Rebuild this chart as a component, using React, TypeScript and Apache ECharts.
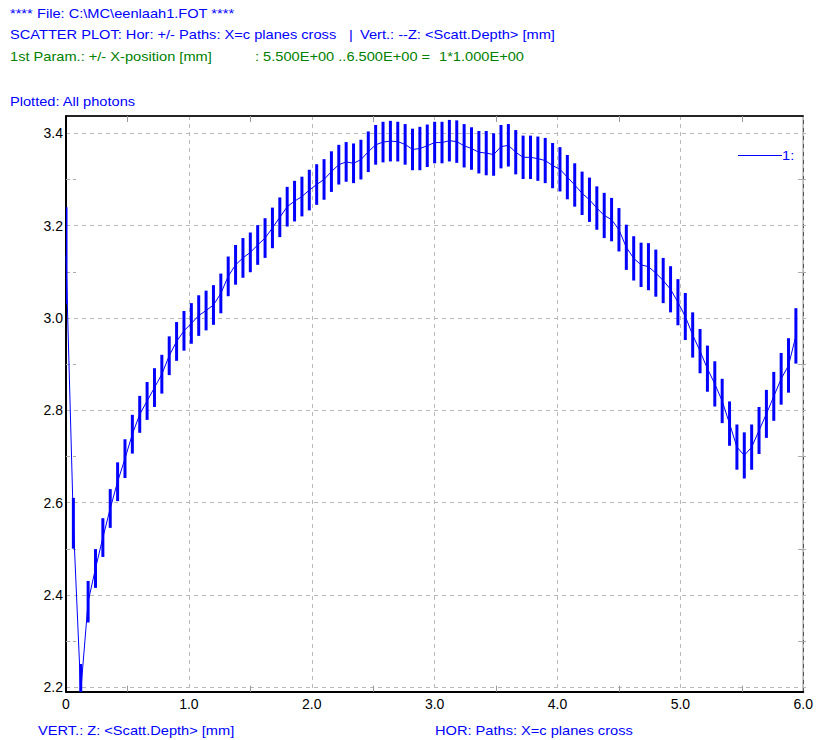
import React, { useEffect, useRef } from "react";
import * as echarts from "echarts";

// Mean scattering depth per X-plane bin (mm), bins every 0.06 from 0 to 5.94
const depthMean: number[] = [
  3.135, 2.555, 2.19, 2.385, 2.457, 2.524, 2.587, 2.645, 2.695, 2.748,
  2.791, 2.82, 2.849, 2.878, 2.918, 2.949, 2.972, 2.988, 3.005, 3.016,
  3.028, 3.053, 3.09, 3.115, 3.13, 3.142, 3.158, 3.173, 3.195, 3.218,
  3.241, 3.253, 3.263, 3.277, 3.289, 3.3, 3.317, 3.332, 3.338, 3.335,
  3.343, 3.36, 3.375, 3.381, 3.383, 3.382, 3.376, 3.365, 3.367, 3.373,
  3.38, 3.38, 3.384, 3.382, 3.373, 3.367, 3.359, 3.357, 3.354, 3.371,
  3.374, 3.359, 3.348, 3.348, 3.345, 3.341, 3.33, 3.322, 3.305, 3.288,
  3.27, 3.256, 3.238, 3.222, 3.213, 3.191, 3.153, 3.129, 3.115, 3.111,
  3.097, 3.081, 3.062, 3.034, 3.003, 2.963, 2.928, 2.89, 2.857, 2.82,
  2.771, 2.72, 2.702, 2.72, 2.756, 2.792, 2.83, 2.868, 2.897, 2.961,
];

// +/- spread of the depth in each bin (mm)
const depthSpread: number[] = [
  0.105, 0.055, 0.06, 0.045, 0.042, 0.042, 0.042, 0.042, 0.042, 0.042,
  0.04, 0.041, 0.042, 0.042, 0.042, 0.042, 0.043, 0.044, 0.044, 0.043,
  0.043, 0.043, 0.043, 0.043, 0.043, 0.043, 0.043, 0.043, 0.044, 0.043,
  0.043, 0.044, 0.043, 0.044, 0.044, 0.044, 0.044, 0.043, 0.043, 0.043,
  0.043, 0.044, 0.043, 0.044, 0.044, 0.043, 0.044, 0.045, 0.047, 0.046,
  0.045, 0.045, 0.045, 0.046, 0.047, 0.046, 0.046, 0.048, 0.046, 0.047,
  0.046, 0.048, 0.047, 0.047, 0.048, 0.049, 0.049, 0.048, 0.048, 0.047,
  0.047, 0.048, 0.047, 0.049, 0.047, 0.047, 0.049, 0.048, 0.048, 0.051,
  0.051, 0.049, 0.05, 0.05, 0.051, 0.049, 0.048, 0.05, 0.049, 0.048,
  0.048, 0.049, 0.05, 0.049, 0.051, 0.052, 0.053, 0.056, 0.059, 0.06,
];

const BIN_STEP = 0.06;
const xPositions: number[] = depthMean.map((_, i) => +(i * BIN_STEP).toFixed(2));

const xTicks = { min: 0, max: 6, interval: 1 };
const yTicks = { min: 2.2, max: 3.4, interval: 0.2 };
const yRange = { min: 2.19, max: 3.4375 };

const BLUE = "#0000ff";
const GREEN = "#008000";
const GRID_GREY = "#b8b8b8";
const FONT = '"Liberation Sans", Arial, sans-serif';
// the old-style UI font is wider than Arial at the same height
const TEXT_STRETCH = 1.17;

export default function App() {
  const ref = useRef<HTMLDivElement>(null);

  useEffect(() => {
    if (!ref.current) return;
    const chart = echarts.init(ref.current, null, { renderer: "svg" });

    const lineData = xPositions.map((x, i) => [x, depthMean[i]]);
    const barData = xPositions.map((x, i) => [
      x,
      depthMean[i] - depthSpread[i],
      depthMean[i] + depthSpread[i],
    ]);

    const headerText = (text: string, x: number, y: number, fill: string) => ({
      type: "text",
      x,
      y,
      scaleX: TEXT_STRETCH,
      silent: true,
      style: {
        text,
        fill,
        font: `12.5px ${FONT}`,
        verticalAlign: "middle",
      },
    });

    const option: any = {
      animation: false,
      backgroundColor: "#ffffff",
      grid: [
        { left: 66, right: 10, top: 116, bottom: 48.3, show: true, borderColor: "#222", borderWidth: 1 },
        { left: 66, right: 10, top: 133.3, bottom: 52.7, show: false },
      ],
      xAxis: [
        {
          gridIndex: 0,
          type: "value",
          position: "bottom",
          min: xTicks.min,
          max: xTicks.max,
          interval: xTicks.interval,
          axisLine: { show: true, lineStyle: { color: "#000", width: 2 } },
          axisTick: { show: false },
          minorTick: { show: true, splitNumber: 2, length: -6, lineStyle: { color: "#999", width: 1 } },
          axisLabel: {
            color: "#000",
            fontSize: 14,
            fontFamily: FONT,
            margin: 5,
            formatter: (v: number) => (v === 0 ? "0" : v.toFixed(1)),
          },
          splitLine: { show: true, lineStyle: { color: GRID_GREY, type: [4, 4], width: 1 } },
        },
        {
          gridIndex: 0,
          type: "value",
          position: "top",
          min: xTicks.min,
          max: xTicks.max,
          interval: xTicks.interval,
          axisLine: { show: true, lineStyle: { color: "#000", width: 1.5 } },
          axisTick: { show: false },
          minorTick: { show: true, splitNumber: 2, length: -6, lineStyle: { color: "#999", width: 1 } },
          axisLabel: { show: false },
          splitLine: { show: false },
        },
        {
          gridIndex: 1,
          type: "value",
          min: xTicks.min,
          max: xTicks.max,
          show: false,
        },
      ],
      yAxis: [
        {
          gridIndex: 0,
          type: "value",
          min: yRange.min,
          max: yRange.max,
          axisLine: { show: true, lineStyle: { color: "#000", width: 2 } },
          axisTick: { show: false },
          axisLabel: { show: false },
          splitLine: { show: false },
        },
        {
          gridIndex: 1,
          type: "value",
          position: "left",
          min: yTicks.min,
          max: yTicks.max,
          interval: yTicks.interval,
          axisLine: { show: false },
          axisTick: { show: false },
          minorTick: { show: true, splitNumber: 2, length: -10, lineStyle: { color: "#aaa", width: 1, type: [4, 3] } },
          axisLabel: {
            color: "#000",
            fontSize: 14,
            fontFamily: FONT,
            margin: 3,
            formatter: (v: number) => v.toFixed(1),
          },
          splitLine: { show: true, lineStyle: { color: GRID_GREY, type: [4, 4], width: 1 } },
        },
        {
          gridIndex: 1,
          type: "value",
          position: "right",
          min: yTicks.min,
          max: yTicks.max,
          interval: yTicks.interval,
          axisLine: { show: false },
          axisTick: { show: false },
          minorTick: { show: true, splitNumber: 2, length: -8, lineStyle: { color: "#aaa", width: 1 } },
          axisLabel: { show: false },
          splitLine: { show: false },
        },
      ],
      series: [
        {
          type: "custom",
          name: "spread",
          xAxisIndex: 0,
          yAxisIndex: 0,
          data: barData,
          z: 3,
          renderItem: (params: any, api: any) => {
            const x = api.value(0);
            const top = api.coord([x, api.value(2)]);
            const bot = api.coord([x, api.value(1)]);
            const shape = echarts.graphic.clipRectByRect(
              { x: top[0] - 1.5, y: top[1], width: 3, height: bot[1] - top[1] },
              {
                x: params.coordSys.x,
                y: params.coordSys.y,
                width: params.coordSys.width,
                height: params.coordSys.height,
              }
            );
            if (!shape) return null;
            return { type: "rect", shape, style: { fill: BLUE } };
          },
        },
        {
          type: "line",
          name: "1:",
          xAxisIndex: 0,
          yAxisIndex: 0,
          data: lineData,
          showSymbol: false,
          clip: true,
          z: 4,
          lineStyle: { color: BLUE, width: 1 },
        },
      ],
      graphic: [
        headerText("****", 10, 14, BLUE),
        headerText("File: C:\\MC\\eenlaah1.FOT ****", 37, 14, BLUE),
        headerText("SCATTER PLOT: Hor: +/- Paths: X=c planes cross", 10, 35, BLUE),
        headerText("|", 349, 35, BLUE),
        headerText("Vert.: --Z: <Scatt.Depth> [mm]", 360, 35, BLUE),
        headerText("1st Param.: +/- X-position [mm]", 10, 57, GREEN),
        headerText(": 5.500E+00 ..6.500E+00 =", 255, 57, GREEN),
        headerText("1*1.000E+00", 439, 57, GREEN),
        headerText("Plotted: All photons", 10, 102, BLUE),
        headerText("VERT.: Z: <Scatt.Depth> [mm]", 38, 731, BLUE),
        headerText("HOR: Paths: X=c planes cross", 435, 731, BLUE),
        {
          type: "line",
          silent: true,
          shape: { x1: 738, y1: 155.5, x2: 782, y2: 155.5 },
          style: { stroke: BLUE, lineWidth: 1 },
          z: 10,
        },
        headerText("1:", 782, 156, BLUE),
      ],
    };

    chart.setOption(option);
    return () => chart.dispose();
  }, []);

  return (
    <div
      ref={ref}
      style={{ position: "fixed", left: 0, top: 0, width: 816, height: 740, background: "#fff" }}
    />
  );
}
